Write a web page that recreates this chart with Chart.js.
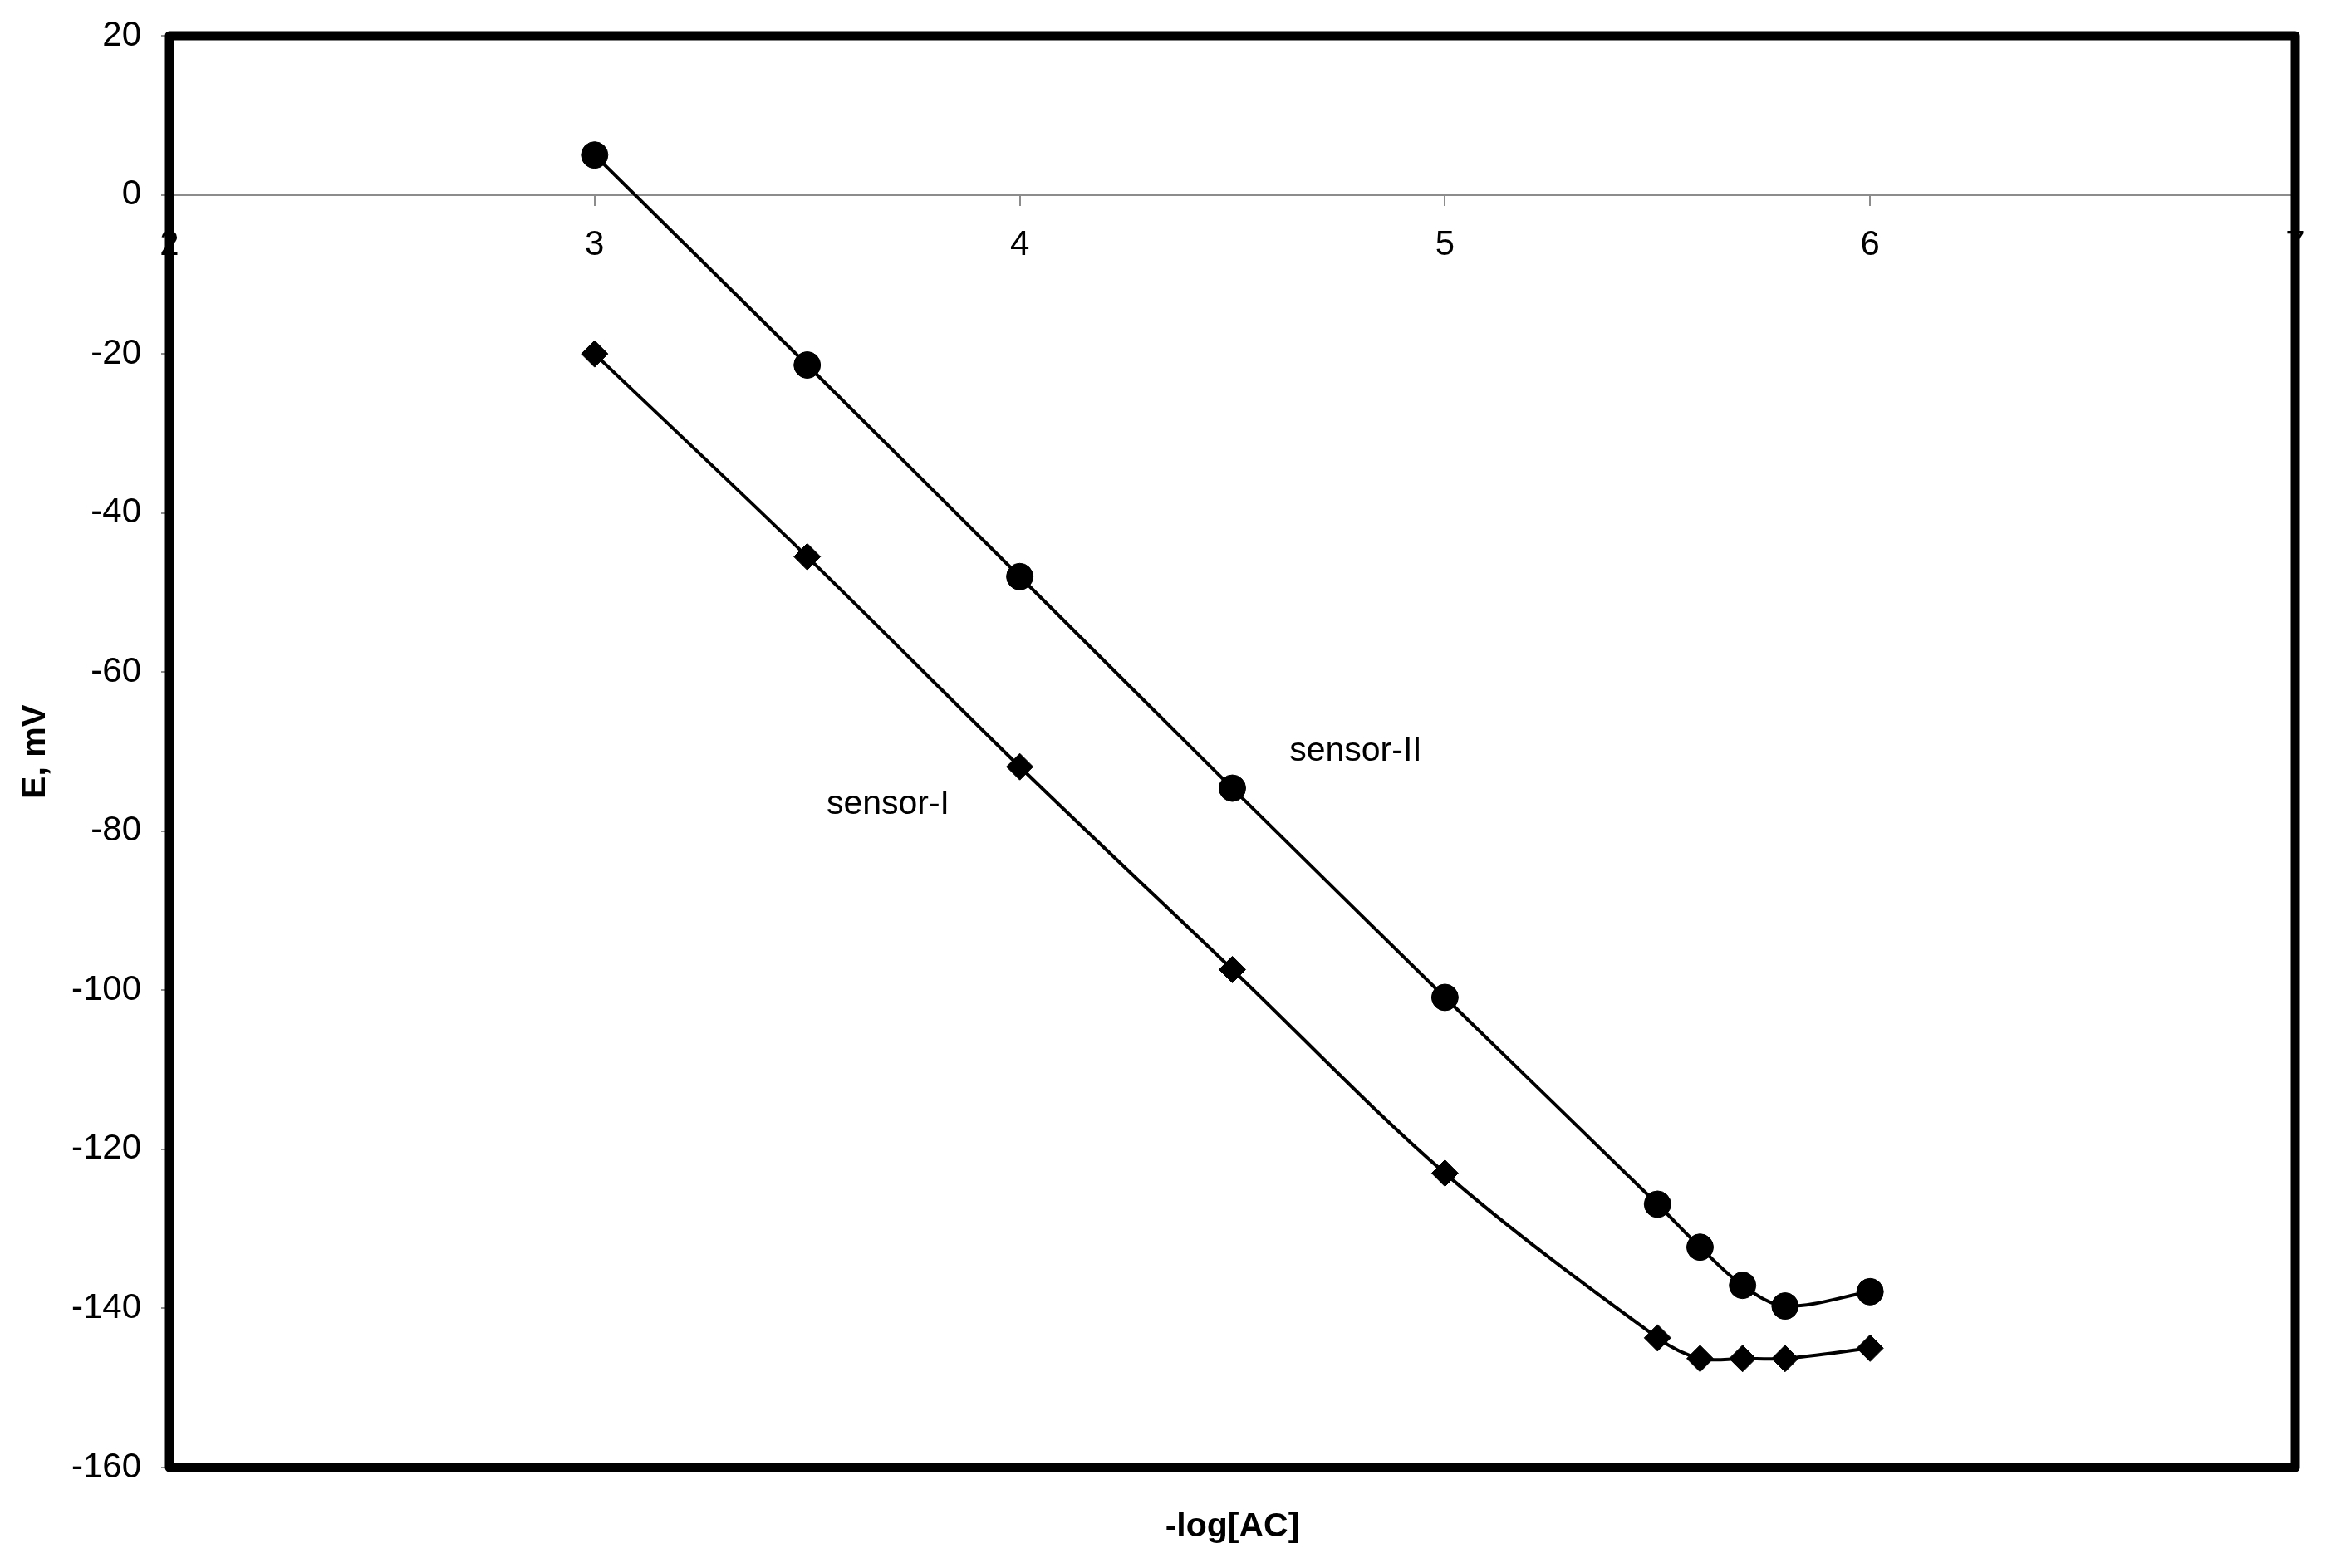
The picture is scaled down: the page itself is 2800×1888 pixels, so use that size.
<!DOCTYPE html>
<html>
<head>
<meta charset="utf-8">
<title>E vs -log[AC]</title>
<script src="https://cdn.jsdelivr.net/npm/chart.js@4/dist/chart.umd.min.js"></script>
<style>
    html, body { margin: 0; padding: 0; background: #fff; }
    #wrap { width: 2800px; height: 1888px; }
</style>
</head>
<body>
<div id="wrap"><canvas id="sensorChart" width="2800" height="1888"></canvas></div>
<script>
// Data
const logConc = [3, 3.5, 4, 4.5, 5, 5.5, 5.6, 5.7, 5.8, 6];
const sensorII = [5, -21.4, -48, -74.6, -100.9, -126.9, -132.3, -137.1, -139.7, -137.9];
const sensorI = [-20, -45.5, -71.9, -97.4, -123, -143.7, -146.3, -146.3, -146.3, -145];

// Axis ranges and titles
const xRange = [2, 7];
const yRange = [-160, 20];
const xTitle = '-log[AC]';
const yTitle = 'E, mV';

// Series labels placed in data units
const seriesLabels = ['sensor-II', 'sensor-I'];
const labelX = [4.79, 3.69];
const labelY = [-71.1, -77.8];

const FONT = '"Liberation Sans", Arial, sans-serif';

function toPoints(xs, ys) {
    return xs.map((x, i) => ({ x: x, y: ys[i] }));
}

// Thick frame, x title and inline series labels
const framePlugin = {
    id: 'frame',
    afterDraw(chart) {
        const ctx = chart.ctx;
        const a = chart.chartArea;
        const xs = chart.scales.x;
        const ys = chart.scales.y;
        ctx.save();
        ctx.fillStyle = '#000';
        ctx.font = '41px ' + FONT;
        ctx.textAlign = 'center';
        ctx.textBaseline = 'alphabetic';
        seriesLabels.forEach((t, i) => {
            ctx.fillText(t, xs.getPixelForValue(labelX[i]), ys.getPixelForValue(labelY[i]));
        });
        ctx.font = 'bold 41px ' + FONT;
        ctx.fillText(xTitle, (a.left + a.right) / 2, 1850);
        ctx.strokeStyle = '#000';
        ctx.lineWidth = 11;
        ctx.lineJoin = 'round';
        ctx.strokeRect(a.left, a.top, a.right - a.left, a.bottom - a.top);
        ctx.restore();
    }
};

function seriesStyle(shape) {
    return {
        showLine: true,
        borderColor: '#000',
        backgroundColor: '#000',
        borderWidth: 4,
        tension: 0.33,
        pointStyle: shape,
        pointRadius: 16,
        pointBorderWidth: 1,
        pointBorderColor: '#000',
        pointBackgroundColor: '#000'
    };
}

function initializeChart() {
    const ctx = document.getElementById('sensorChart').getContext('2d');
    new Chart(ctx, {
        type: 'scatter',
        data: {
            datasets: [
                Object.assign({ label: 'sensor-II', data: toPoints(logConc, sensorII) }, seriesStyle('circle')),
                Object.assign({ label: 'sensor-I', data: toPoints(logConc, sensorI) }, seriesStyle('rectRot'))
            ]
        },
        options: {
            responsive: false,
            animation: false,
            layout: { padding: { top: 43, right: 37, bottom: 121, left: 0 } },
            plugins: {
                legend: { display: false },
                tooltip: { enabled: false }
            },
            scales: {
                x: {
                    type: 'linear',
                    position: { y: 0 },
                    min: xRange[0],
                    max: xRange[1],
                    afterFit(s) { s.paddingLeft = 0; s.paddingRight = 0; },
                    ticks: {
                        stepSize: 1,
                        autoSkip: false,
                        padding: 24,
                        color: '#000',
                        font: { family: FONT, size: 42 }
                    },
                    grid: { drawOnChartArea: false, tickLength: 12, color: '#8c8c8c', lineWidth: 2 },
                    border: { display: true, color: '#8c8c8c', width: 2 }
                },
                y: {
                    type: 'linear',
                    position: 'left',
                    min: yRange[0],
                    max: yRange[1],
                    afterFit(s) { s.width = 204; s.paddingTop = 0; s.paddingBottom = 0; },
                    ticks: {
                        stepSize: 20,
                        padding: 24,
                        color: '#000',
                        font: { family: FONT, size: 42 }
                    },
                    grid: { drawOnChartArea: false, tickLength: 10, color: '#8c8c8c', lineWidth: 2 },
                    border: { display: false },
                    title: {
                        display: true,
                        text: yTitle,
                        color: '#000',
                        padding: { top: 18, bottom: 0 },
                        font: { family: FONT, size: 41, weight: 'bold' }
                    }
                }
            }
        },
        plugins: [framePlugin]
    });
}

document.addEventListener('DOMContentLoaded', function() {
    initializeChart();
});
</script>
</body>
</html>
